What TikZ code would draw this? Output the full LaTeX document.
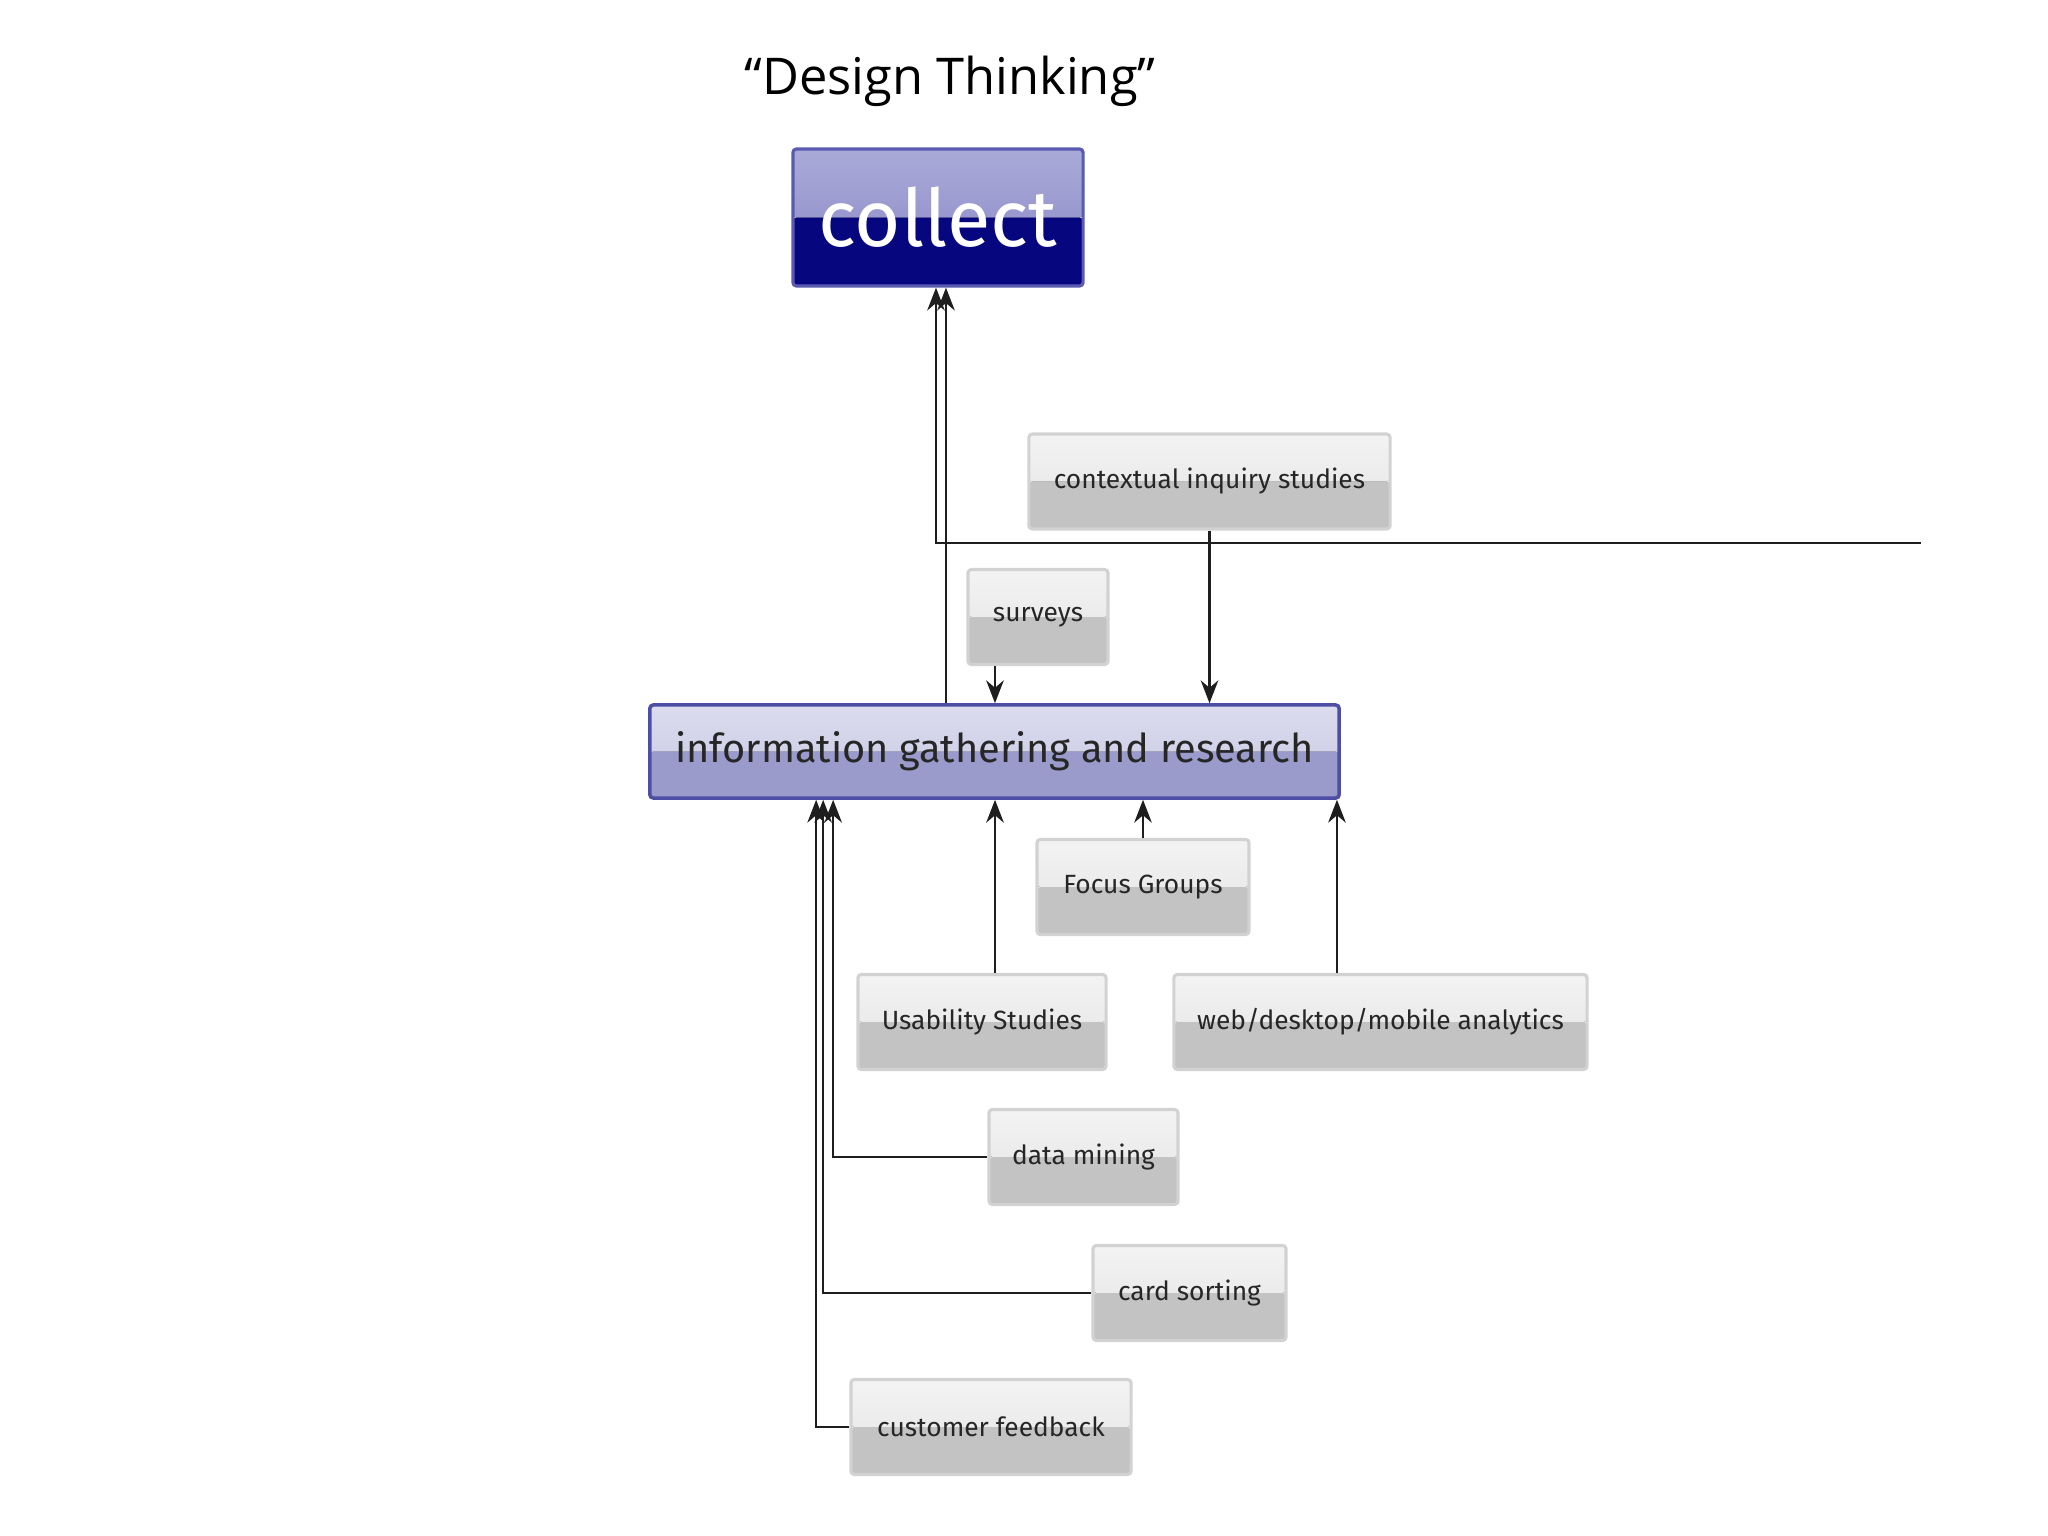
\documentclass[tikz,border=0pt]{standalone}
\usepackage{fontspec}
\setmainfont{Fira Sans}
\newfontfamily\titlefont{Open Sans}
\usetikzlibrary{arrows.meta, calc}
\definecolor{ink}{HTML}{262626}
\definecolor{wire}{HTML}{1E1E1E}
\definecolor{greyline}{HTML}{D2D2D2}
\definecolor{greytop}{HTML}{F3F3F3}
\definecolor{greymid}{HTML}{E3E3E3}
\definecolor{greybot}{HTML}{C3C3C3}
\definecolor{navyline}{HTML}{5A5AB0}
\definecolor{navytop}{HTML}{AAAAD8}
\definecolor{navymid}{HTML}{8686C6}
\definecolor{navybot}{HTML}{06067E}
\definecolor{lilacline}{HTML}{4E4EA6}
\definecolor{lilactop}{HTML}{DCDCEE}
\definecolor{lilacmid}{HTML}{C6C6E3}
\definecolor{lilacbot}{HTML}{9A9ACB}
\tikzset{
  >={Stealth[length=6.5pt, width=5pt]},
  %
  gloss/.style n args={3}{path picture={
      \fill[top color=#1, bottom color=#2]
        (path picture bounding box.north west) rectangle (path picture bounding box.east);
      \fill[#3]
        (path picture bounding box.west) rectangle (path picture bounding box.south east);
  }},
  %
  box/.style={draw=greyline, line width=0.9pt, rounded corners=1pt,
    gloss={greytop}{greymid}{greybot}, text=ink, inner sep=0pt,
    font=\fontsize{7.5}{9}\selectfont, minimum height=0.95cm},
  boxc/.style={box, draw=navyline, gloss={navytop}{navymid}{navybot},
    text=white, font=\fontsize{22.6}{26}\selectfont},
  boxi/.style={box, draw=lilacline, line width=1pt, gloss={lilactop}{lilacmid}{lilacbot},
    text=ink, font=\fontsize{11.3}{13}\selectfont},
  %
  flow/.style={draw=wire, line width=0.6pt, ->},
}
\begin{document}
\begin{tikzpicture}[x=0.01cm, y=-0.01cm]
  \useasboundingbox (0,0) rectangle (2048,1536);

  \node[font=\titlefont\fontsize{14.4}{17}\selectfont] (title) at (950,81)
    {“Design Thinking”};

  \node[boxc, minimum width=2.9cm, minimum height=1.37cm] (collect) at (938,217.5) {collect};
  \node[box, minimum width=3.61cm] (ctx) at (1209.5,481.5) {contextual inquiry studies};
  \node[box, minimum width=1.40cm] (surveys) at (1038,617) {surveys};
  \node[boxi, minimum width=6.89cm, minimum height=0.93cm] (info) at (994.5,751.5)
    {information gathering and research};
  \node[box, minimum width=2.12cm] (focus) at (1143,887) {Focus Groups};
  \node[box, minimum width=2.48cm] (usab) at (982,1022) {Usability Studies};
  \node[box, minimum width=4.13cm] (web) at (1380.5,1022) {web/desktop/mobile analytics};
  \node[box, minimum width=1.89cm] (mining) at (1083.5,1157) {data mining};
  \node[box, minimum width=1.93cm] (sorting) at (1189.5,1293) {card sorting};
  \node[box, minimum width=2.80cm] (feedback) at (991,1427) {customer feedback};

  % into collect
  \coordinate (offedge) at (1921,543);
  \draw[flow] (offedge) -| ([xshift=-0.02cm]collect.south);
  \draw[flow] ([xshift=-0.485cm]info.north) coordinate (up) -- (up |- collect.south);

  % down into info
  \draw[flow] (ctx.south) -- (ctx.south |- info.north);
  \draw[flow] ([xshift=-0.43cm]surveys.south) coordinate (sv) -- (sv |- info.north);

  % up into info
  \draw[flow] ([xshift=0.13cm]usab.north) coordinate (us) -- (us |- info.south);
  \draw[flow] (focus.north) -- (focus.north |- info.south);
  \draw[flow] ([xshift=-0.435cm]web.north) coordinate (wb) -- (wb |- info.south);
  \draw[flow] (mining.west) -| ([xshift=1.85cm]info.south west);
  \draw[flow] (sorting.west) -| ([xshift=1.75cm]info.south west);
  \draw[flow] (feedback.west) -| ([xshift=1.68cm]info.south west);

\end{tikzpicture}
\end{document}
